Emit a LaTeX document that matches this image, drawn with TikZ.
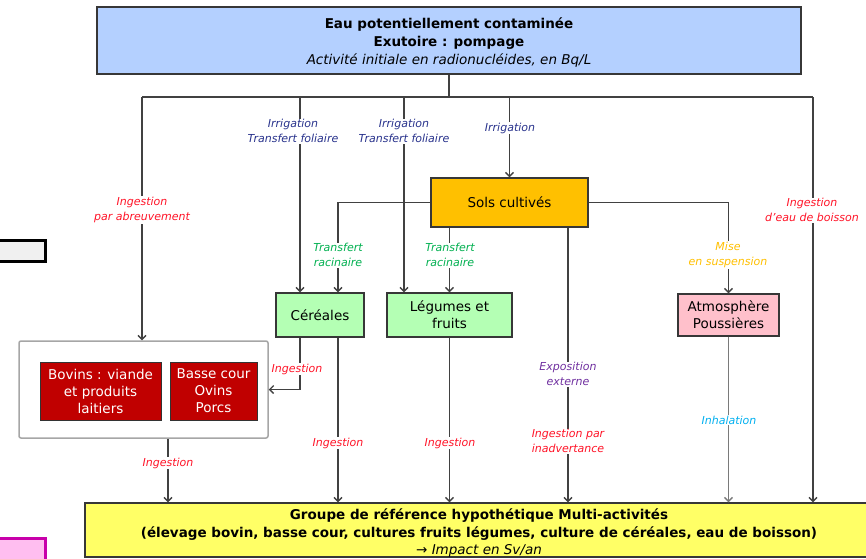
\documentclass[tikz,border=0pt]{standalone}
\usepackage{fontspec}
\setmainfont{DejaVu Sans}
\usetikzlibrary{arrows.meta,calc}
\definecolor{boxblue}{RGB}{180,208,255}
\definecolor{soilorange}{RGB}{255,192,0}
\definecolor{plantgreen}{RGB}{180,255,180}
\definecolor{atmpink}{RGB}{255,192,203}
\definecolor{animred}{RGB}{192,0,0}
\definecolor{grpyellow}{RGB}{255,255,102}
\definecolor{lineg}{RGB}{65,65,65}
\definecolor{bordg}{RGB}{55,55,55}
\definecolor{lblblue}{RGB}{40,50,140}
\definecolor{lblred}{RGB}{255,20,40}
\definecolor{lblgreen}{RGB}{0,176,80}
\definecolor{lblorange}{RGB}{255,192,0}
\definecolor{lblpurple}{RGB}{112,48,160}
\definecolor{lblcyan}{RGB}{0,176,240}
\definecolor{fraggray}{RGB}{240,240,240}
\definecolor{fragpink}{RGB}{255,190,240}
\definecolor{fragmag}{RGB}{200,0,170}
\begin{document}
\begin{tikzpicture}[x=1pt,y=-1pt,
  box/.style={draw=bordg,line width=1.4pt,inner sep=0pt,align=center,font=\fontsize{13.5}{17}\selectfont},
  arr/.style={draw=lineg,line width=1.3pt,-{Straight Barb[length=4pt,width=8pt]}},
  wire/.style={draw=lineg,line width=1.3pt},
  lbl/.style={fill=white,inner sep=1pt,align=center,font=\fontsize{11}{14.5}\selectfont\itshape},
]
\useasboundingbox (0,0) rectangle (866,558);

% fragments at the left edge
\node[draw=black,line width=3pt,fill=fraggray,minimum width=60pt,minimum height=21pt,inner sep=0pt] (fragA) at (15.5,251) {};
\node[draw=fragmag,line width=2.5pt,fill=fragpink,minimum width=60pt,minimum height=30pt,inner sep=0pt] (fragB) at (15.5,553.5) {};

% nodes
\node[box,fill=boxblue,minimum width=704pt,minimum height=67pt,line width=2pt] (top) at (449,40.5) {};
\node[align=center,inner sep=0pt,font=\fontsize{13.5}{18}\selectfont] (toptext) at (449,42)
  {\textbf{Eau potentiellement contaminée}\\\textbf{Exutoire : pompage}\\\textit{Activité initiale en radionucléides, en Bq/L}};
\node[box,fill=soilorange,minimum width=157pt,minimum height=49pt] (sols) at (509.5,202.5) {Sols cultivés};
\node[box,fill=plantgreen,minimum width=88pt,minimum height=44pt] (cer) at (320,315) {Céréales};
\node[box,fill=plantgreen,minimum width=125pt,minimum height=44pt] (leg) at (449.5,315) {Légumes et\\fruits};
\node[box,fill=atmpink,minimum width=101pt,minimum height=42pt] (atm) at (728.5,315) {Atmosphère\\Poussières};
\node[draw=gray!70,line width=1.5pt,rounded corners=2pt,fill=white,minimum width=249pt,minimum height=97pt,inner sep=0pt] (anim) at (143.5,389.5) {};
\node[box,fill=animred,text=white,draw=black!80,line width=1pt,minimum width=121pt,minimum height=58pt] (bov) at (100.5,391) {Bovins : viande\\et produits\\laitiers};
\node[box,fill=animred,text=white,draw=black!80,line width=1pt,minimum width=87pt,minimum height=58pt] (bas) at (213.5,391) {Basse cour\\Ovins\\Porcs};
\node[box,fill=grpyellow,minimum width=788pt,minimum height=54pt] (grp) at (479,530) {};
\node[align=center,inner sep=0pt,font=\fontsize{13.5}{17.5}\selectfont] (grptext) at (479,533)
  {\textbf{Groupe de référence hypothétique Multi-activités}\\\textbf{(élevage bovin, basse cour, cultures fruits légumes, culture de céréales, eau de boisson)}\\\textit{→ Impact en Sv/an}};

% coordinates
\coordinate (hL) at (142,97);
\coordinate (hR) at (813,97);
\coordinate (xA) at (300,0);
\coordinate (xB) at (404,0);
\coordinate (xC) at (338,0);
\coordinate (xD) at (568,0);
\coordinate (xE) at (168,0);

% connectors
\draw[wire] (top.south) -- (top.south |- hL);
\draw[wire] (hL) -- (hR);
\draw[arr] (hL) -- (hL |- anim.north);
\draw[arr] (xA |- hL) -- (xA |- cer.north);
\draw[arr] (xB |- hL) -- (xB |- leg.north);
\draw[arr] (sols.north |- hL) -- (sols.north);
\draw[arr] (hR) -- (hR |- grp.north);
\draw[arr] (sols.west) -| (xC |- cer.north);
\draw[arr] (sols.south -| leg.north) -- (leg.north);
\draw[arr] (sols.east) -| (atm.north);
\draw[arr] (xD |- sols.south) -- (xD |- grp.north);
\draw[arr] (xA |- cer.south) |- (anim.east);
\draw[arr] (xC |- cer.south) -- (xC |- grp.north);
\draw[arr] (leg.south) -- (leg.south |- grp.north);
\draw[arr,draw=lineg!70] (atm.south) -- (atm.south |- grp.north);
\draw[arr] (xE |- anim.south) -- (xE |- grp.north);

% labels
\node[lbl,text=lblred] (l1) at (142,210) {Ingestion\\par abreuvement};
\node[lbl,text=lblblue] (l2) at (293,131) {Irrigation\\Transfert foliaire};
\node[lbl,text=lblblue] (l3) at (404,131) {Irrigation\\Transfert foliaire};
\node[lbl,text=lblblue] (l4) at (510,128) {Irrigation};
\node[lbl,text=lblred] (l5) at (812,210) {Ingestion\\d'eau de boisson};
\node[lbl,text=lblgreen] (l6) at (338,255) {Transfert\\racinaire};
\node[lbl,text=lblgreen] (l7) at (450,255) {Transfert\\racinaire};
\node[lbl,text=lblorange] (l8) at (728,255) {Mise\\en suspension};
\node[lbl,text=lblred] (l9) at (297,369) {Ingestion};
\node[lbl,text=lblred] (l10) at (338,443) {Ingestion};
\node[lbl,text=lblred] (l11) at (450,443) {Ingestion};
\node[lbl,text=lblpurple] (l12) at (568,374) {Exposition\\externe};
\node[lbl,text=lblred] (l13) at (568,441) {Ingestion par\\inadvertance};
\node[lbl,text=lblcyan] (l14) at (729,420) {Inhalation};
\node[lbl,text=lblred] (l15) at (168,463) {Ingestion};
\end{tikzpicture}
\end{document}
